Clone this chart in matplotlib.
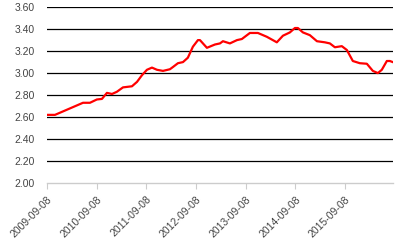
import numpy as np
import matplotlib.pyplot as plt
import matplotlib.dates as mdates
import pandas as pd

dates = ['2009-09-08', '2009-11-06', '2010-05-31', '2010-07-21', '2010-09-10',
         '2010-10-17', '2010-11-23', '2010-12-30', '2011-02-04', '2011-03-21',
         '2011-05-26', '2011-07-02', '2011-08-07', '2011-09-13', '2011-10-20',
         '2011-11-26', '2012-01-09', '2012-02-29', '2012-03-22', '2012-04-28',
         '2012-06-04', '2012-07-10', '2012-08-16', '2012-09-22', '2012-10-07',
         '2012-11-27', '2013-01-25', '2013-03-03', '2013-03-25', '2013-05-15',
         '2013-07-06', '2013-08-11', '2013-10-09', '2013-12-07', '2014-02-11',
         '2014-04-25', '2014-06-09', '2014-07-30', '2014-09-05', '2014-09-27',
         '2014-11-03', '2014-12-24', '2015-02-14', '2015-04-13', '2015-05-20',
         '2015-06-26', '2015-08-16', '2015-09-22', '2015-11-05', '2015-12-26',
         '2016-02-16', '2016-03-31', '2016-05-07', '2016-06-05', '2016-07-12',
         '2016-08-03', '2016-08-25']
values = [2.62, 2.62, 2.73, 2.73, 2.76,
          2.765, 2.82, 2.81, 2.83, 2.87,
          2.88, 2.92, 2.98, 3.03, 3.05,
          3.03, 3.02, 3.035, 3.055, 3.09,
          3.10, 3.14, 3.24, 3.30, 3.30,
          3.23, 3.26, 3.27, 3.29, 3.27,
          3.30, 3.31, 3.365, 3.365, 3.33,
          3.28, 3.34, 3.37, 3.41, 3.41,
          3.37, 3.345, 3.29, 3.28, 3.27,
          3.235, 3.245, 3.21, 3.11, 3.09,
          3.085, 3.02, 3.00, 3.03, 3.11,
          3.11, 3.10]
tick_labels = ['2009-09-08', '2010-09-08', '2011-09-08', '2012-09-08',
               '2013-09-08', '2014-09-08', '2015-09-08']
y_ticks = [2.0, 2.2, 2.4, 2.6, 2.8, 3.0, 3.2, 3.4, 3.6]

x = pd.to_datetime(dates)
xt = pd.to_datetime(tick_labels)

plt.rcParams['font.family'] = 'Liberation Sans'

fig = plt.figure(figsize=(3.98, 2.46), dpi=100)
ax = fig.add_axes([0.118, 0.256, 0.869, 0.715])

for v in y_ticks[1:]:
    ax.axhline(v, color='black', linewidth=0.9, zorder=1)

ax.plot(x, values, color='#ff0000', linewidth=1.6, zorder=3)

ax.set_ylim(2.0, 3.6)
ax.set_xlim(xt[0], pd.Timestamp('2016-08-25'))
ax.set_yticks(y_ticks)
ax.set_yticklabels(['%.2f' % v for v in y_ticks])
ax.set_xticks(xt)
ax.set_xticklabels(tick_labels, rotation=45, ha='right', rotation_mode='anchor')

for sp in ['top', 'right', 'left']:
    ax.spines[sp].set_visible(False)
ax.spines['bottom'].set_color('#cccccc')
ax.spines['bottom'].set_linewidth(1.0)

ax.tick_params(axis='y', length=0, pad=9, labelsize=7.5, labelcolor='#444444')
ax.tick_params(axis='x', length=4, color='#cccccc', pad=4, labelsize=7.5, labelcolor='#444444')

fig.savefig('out.png', dpi=100)
